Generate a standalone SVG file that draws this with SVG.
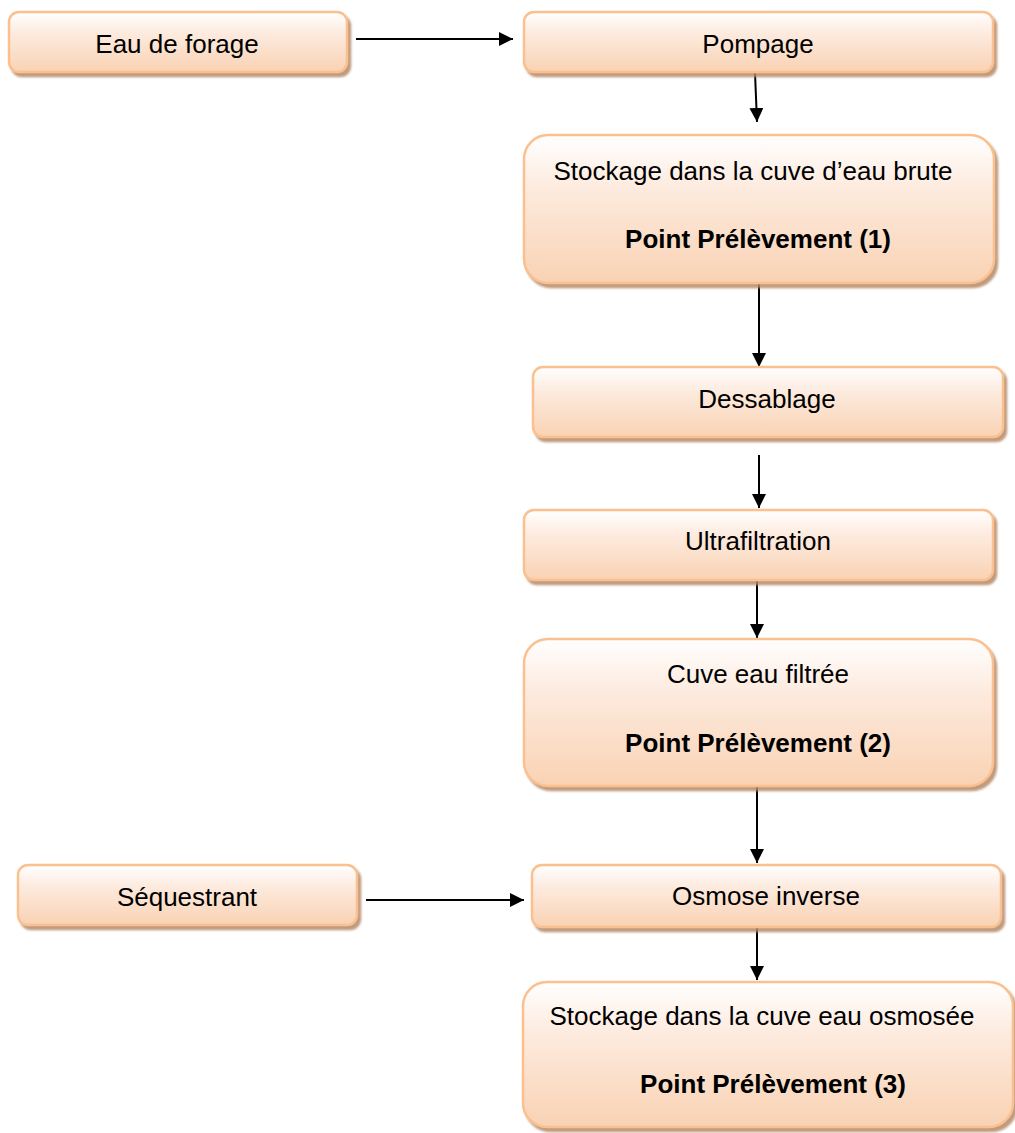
<svg xmlns="http://www.w3.org/2000/svg" width="1015" height="1133" viewBox="0 0 1015 1133">
<defs>
<linearGradient id="g" x1="0" y1="0" x2="0" y2="1">
<stop offset="0" stop-color="#FFFFFF"/>
<stop offset="0.35" stop-color="#FDEBDF"/>
<stop offset="1" stop-color="#F9D2B3"/>
</linearGradient>
<filter id="sh" x="-5%" y="-10%" width="112%" height="125%">
<feGaussianBlur in="SourceAlpha" stdDeviation="0.8" result="b"/>
<feOffset in="b" dx="3" dy="4" result="o"/>
<feFlood flood-color="#B58A68" flood-opacity="0.85"/>
<feComposite in2="o" operator="in" result="s"/>
<feMerge><feMergeNode in="s"/><feMergeNode in="SourceGraphic"/></feMerge>
</filter>
<marker id="ah" markerUnits="userSpaceOnUse" markerWidth="14" markerHeight="14" refX="14" refY="7" orient="auto">
<path d="M0,0 L14,7 L0,14 z" fill="#000"/>
</marker>
</defs>
<style>
.box{fill:url(#g);stroke:#FAC08F;stroke-width:2.5;filter:url(#sh)}
.t{font-family:"Liberation Sans",Arial,sans-serif;font-size:26px;fill:#000;text-anchor:middle}
.b{font-weight:bold}
.c{stroke:#000;stroke-width:2;fill:none;marker-end:url(#ah)}
</style>
<rect width="1015" height="1133" fill="#fff"/>
<g id="connectors">
<line class="c" x1="356" y1="39" x2="513" y2="39"/>
<line class="c" x1="755" y1="73" x2="757" y2="122"/>
<line class="c" x1="759" y1="284" x2="759" y2="367"/>
<line class="c" x1="759" y1="455" x2="759" y2="508"/>
<line class="c" x1="757" y1="581" x2="757" y2="638"/>
<line class="c" x1="757" y1="787" x2="757" y2="863"/>
<line class="c" x1="366" y1="900" x2="524" y2="900"/>
<line class="c" x1="757" y1="928" x2="757" y2="980"/>
</g>
<g id="eau-de-forage">
<rect class="box" x="9" y="12" width="338" height="60" rx="10"/>
<text class="t" x="177" y="53">Eau de forage</text>
</g>
<g id="pompage">
<rect class="box" x="524" y="12" width="469" height="60" rx="10"/>
<text class="t" x="758" y="53">Pompage</text>
</g>
<g id="stockage-brute">
<rect class="box" x="524" y="135" width="470" height="148" rx="24"/>
<text class="t" x="753" y="180">Stockage dans la cuve d’eau brute</text>
<text class="t b" x="758" y="248">Point Prélèvement (1)</text>
</g>
<g id="dessablage">
<rect class="box" x="533" y="367" width="470" height="70" rx="10"/>
<text class="t" x="767" y="408">Dessablage</text>
</g>
<g id="ultrafiltration">
<rect class="box" x="524" y="510" width="469" height="70" rx="10"/>
<text class="t" x="758" y="550">Ultrafiltration</text>
</g>
<g id="cuve-filtree">
<rect class="box" x="524" y="639" width="469" height="147" rx="24"/>
<text class="t" x="758" y="683">Cuve eau filtrée</text>
<text class="t b" x="758" y="752">Point Prélèvement (2)</text>
</g>
<g id="sequestrant">
<rect class="box" x="18" y="865" width="339" height="60" rx="10"/>
<text class="t" x="187" y="906">Séquestrant</text>
</g>
<g id="osmose-inverse">
<rect class="box" x="532" y="865" width="469" height="62" rx="10"/>
<text class="t" x="766" y="905">Osmose inverse</text>
</g>
<g id="stockage-osmosee">
<rect class="box" x="523" y="982" width="490" height="145" rx="24"/>
<text class="t" x="762" y="1025">Stockage dans la cuve eau osmosée</text>
<text class="t b" x="773" y="1093">Point Prélèvement (3)</text>
</g>
</svg>
